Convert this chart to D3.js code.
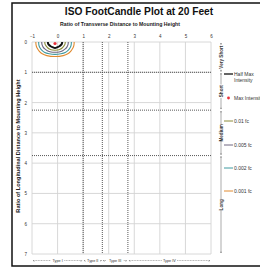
<!DOCTYPE html>
<html><head><meta charset="utf-8">
<script src="https://cdn.jsdelivr.net/npm/d3@7"></script>
<style>body{margin:0;background:#fff}svg{display:block;font-family:"Liberation Sans",Arial,sans-serif}</style>
</head><body><svg id="c" width="260" height="269"></svg>
<script>
const title = "ISO FootCandle Plot at 20 Feet";
const xTitle = "Ratio of Transverse Distance to Mounting Height";
const yTitle = "Ratio of Longitudinal Distance to Mounting Height";
const xTicks = [-1,0,1,2,3,4,5,6];
const yTicks = [0,1,2,3,4,5,6,7];
const typeBounds = [1, 1.75, 2.75];
const typeLabels = ["Type I","Type II","Type III","Type IV"];
const typeRanges = [[-1,1],[1,1.75],[1.75,2.75],[2.75,6]];
const lenBounds = [1, 2.25, 3.75];
const lenLabels = ["Very Short","Short","Medium","Long"];
const lenRanges = [[0,1],[1,2.25],[2.25,3.75],[3.75,7]];
const maxPoint = [-0.1, 0.05];
const legendNames = ["Half Max Intensity","Max Intensity","0.01 fc","0.005 fc","0.002 fc","0.001 fc"];
const legendColors = ["#111111","#e8303a","#8c8c3a","#6e6680","#3f9aa0","#e08a30"];
const c001 = [[-0.85,0],[-0.84,0.1],[-0.8,0.2],[-0.72,0.3],[-0.6,0.39],[-0.42,0.45],[-0.1,0.48],[0.22,0.45],[0.4,0.39],[0.52,0.3],[0.6,0.2],[0.64,0.1],[0.65,0]];
const c002 = [[-0.74,0],[-0.73,0.1],[-0.69,0.19],[-0.61,0.28],[-0.5,0.35],[-0.33,0.39],[-0.1,0.41],[0.13,0.39],[0.3,0.35],[0.41,0.28],[0.49,0.19],[0.53,0.1],[0.54,0]];
const c005 = [[-0.62,0],[-0.61,0.08],[-0.57,0.16],[-0.5,0.23],[-0.4,0.29],[-0.26,0.33],[-0.1,0.34],[0.06,0.33],[0.2,0.29],[0.3,0.23],[0.37,0.16],[0.41,0.08],[0.42,0]];
const c01 = [[-0.5,0],[-0.49,0.07],[-0.45,0.13],[-0.39,0.19],[-0.3,0.24],[-0.2,0.265],[-0.1,0.27],[0.0,0.265],[0.1,0.24],[0.19,0.19],[0.25,0.13],[0.29,0.07],[0.3,0]];
const cHalf = [[-0.38,0],[-0.37,0.05],[-0.33,0.1],[-0.27,0.14],[-0.2,0.17],[-0.1,0.2],[0.0,0.17],[0.07,0.14],[0.13,0.1],[0.17,0.05],[0.18,0]];
const contours = [c001, c002, c005, c01, cHalf];
const contourColors = ["#e08a30","#3f9aa0","#6e6680","#8c8c3a","#111111"];
const contourWidths = [1.1,1.1,1.1,1.1,2];

const svg = d3.select("#c");
const x = d3.scaleLinear().domain([-1,6]).range([32,211]);
const y = d3.scaleLinear().domain([0,7]).range([42,254]);

// outer frame
svg.append("rect").attr("x",12).attr("y",3).attr("width",275).attr("height",263)
  .attr("fill","none").attr("stroke","#111").attr("stroke-width",1.5);

svg.append("text").attr("x",139).attr("y",15).attr("text-anchor","middle")
  .attr("font-size",10.2).attr("font-weight","bold").attr("fill","#111").text(title);
svg.append("text").attr("x",120).attr("y",26).attr("text-anchor","middle")
  .attr("font-size",5.2).attr("font-weight","bold").attr("fill","#222").text(xTitle);
svg.append("text").attr("transform","translate(20,146) rotate(-90)").attr("text-anchor","middle")
  .attr("font-size",5.6).attr("font-weight","bold").attr("fill","#222").text(yTitle);

// grid
const g = svg.append("g");
g.selectAll(".gx").data(xTicks).enter().append("line")
  .attr("x1",d=>x(d)).attr("x2",d=>x(d)).attr("y1",y(0)).attr("y2",y(7))
  .attr("stroke","#d4d4d4").attr("stroke-width",0.9);
g.selectAll(".gy").data(yTicks).enter().append("line")
  .attr("y1",d=>y(d)).attr("y2",d=>y(d)).attr("x1",x(-1)).attr("x2",x(6))
  .attr("stroke","#d4d4d4").attr("stroke-width",0.9);

// axes labels
const xa = svg.append("g").attr("transform",`translate(0,${y(0)-4})`)
  .call(d3.axisTop(x).tickValues(xTicks).tickSize(0).tickPadding(0).tickFormat(d3.format("d")));
xa.select(".domain").remove();
xa.selectAll("text").attr("font-size",4.5).attr("fill","#333").attr("font-family","Liberation Sans");
const ya = svg.append("g").attr("transform",`translate(${x(-1)-5},0)`)
  .call(d3.axisLeft(y).tickValues(yTicks).tickSize(0).tickPadding(0).tickFormat(d3.format("d")));
ya.select(".domain").remove();
ya.selectAll("text").attr("font-size",4.5).attr("fill","#333").attr("font-family","Liberation Sans");

// dashed boundaries
svg.selectAll(".tb").data(typeBounds).enter().append("line")
  .attr("x1",d=>x(d)).attr("x2",d=>x(d)).attr("y1",y(0)).attr("y2",y(7))
  .attr("stroke","#444").attr("stroke-width",0.9).attr("stroke-dasharray","1,1");
svg.selectAll(".lb").data(lenBounds).enter().append("line")
  .attr("y1",d=>y(d)).attr("y2",d=>y(d)).attr("x1",x(-1)).attr("x2",x(6))
  .attr("stroke","#444").attr("stroke-width",0.9).attr("stroke-dasharray","1,1");

// contours
svg.append("clipPath").attr("id","pc").append("rect")
  .attr("x",x(-1)).attr("y",y(0)).attr("width",x(6)-x(-1)).attr("height",y(7)-y(0));
const line = d3.line().x(d=>x(d[0])).y(d=>y(d[1])).curve(d3.curveCatmullRom);
svg.append("g").attr("clip-path","url(#pc)").selectAll("path").data(contours).enter().append("path")
  .attr("d",line).attr("fill","none")
  .attr("stroke",(d,i)=>contourColors[i]).attr("stroke-width",(d,i)=>contourWidths[i]);
svg.append("circle").attr("cx",x(maxPoint[0])).attr("cy",y(maxPoint[1])).attr("r",1.6).attr("fill","#e8303a");

// bottom type arrows
const by = 260.5;
const defs = svg.append("defs");
defs.append("marker").attr("id","ah").attr("viewBox","0 0 6 6").attr("refX",5).attr("refY",3)
  .attr("markerWidth",4).attr("markerHeight",4).attr("orient","auto-start-reverse")
  .append("path").attr("d","M0,0L6,3L0,6").attr("fill","none").attr("stroke","#555").attr("stroke-width",1);
typeRanges.forEach((r,i)=>{
  const x0 = x(r[0])+1, x1 = x(r[1])-1, xm=(x0+x1)/2;
  const tw = typeLabels[i].length*1.9+2;
  svg.append("line").attr("x1",x0).attr("x2",xm-tw/2).attr("y1",by).attr("y2",by)
    .attr("stroke","#666").attr("stroke-width",0.5).attr("stroke-dasharray","1,0.6").attr("marker-start","url(#ah)");
  svg.append("line").attr("x1",xm+tw/2).attr("x2",x1).attr("y1",by).attr("y2",by)
    .attr("stroke","#666").attr("stroke-width",0.5).attr("stroke-dasharray","1,0.6").attr("marker-end","url(#ah)");
  svg.append("text").attr("x",xm).attr("y",by+1.4).attr("text-anchor","middle")
    .attr("font-size",3.8).attr("fill","#333").text(typeLabels[i]);
});

// right length bracket
const rx = 221;
lenRanges.forEach((r,i)=>{
  const y0 = y(r[0])+1, y1 = y(r[1])-1, ym=(y0+y1)/2;
  const tw = lenLabels[i].length*2.3+2;
  svg.append("line").attr("x1",rx).attr("x2",rx).attr("y1",y0).attr("y2",ym-tw/2)
    .attr("stroke","#555").attr("stroke-width",0.5).attr("marker-start","url(#ah)");
  svg.append("line").attr("x1",rx).attr("x2",rx).attr("y1",ym+tw/2).attr("y2",y1)
    .attr("stroke","#555").attr("stroke-width",0.5).attr("marker-end","url(#ah)");
  svg.append("text").attr("transform",`translate(${rx+1.6},${ym}) rotate(-90)`).attr("text-anchor","middle")
    .attr("font-size",4.6).attr("font-weight","bold").attr("fill","#333").text(lenLabels[i]);
});

// legend
const lx = 224;
const ly = [74, 98, 121, 145, 168, 191];
legendNames.forEach((n,i)=>{
  if (i===1) {
    svg.append("circle").attr("cx",lx+4.5).attr("cy",ly[i]).attr("r",1.4).attr("fill",legendColors[i]);
  } else {
    svg.append("line").attr("x1",lx).attr("x2",lx+9).attr("y1",ly[i]).attr("y2",ly[i])
      .attr("stroke",legendColors[i]).attr("stroke-width",i===0?1.3:1);
  }
  const tx = lx+10;
  if (i===0) {
    svg.append("text").attr("x",tx).attr("y",ly[i]+1.7).attr("font-size",5).attr("fill","#333").text("Half Max");
    svg.append("text").attr("x",tx).attr("y",ly[i]+7.7).attr("font-size",5).attr("fill","#333").text("Intensity");
  } else {
    svg.append("text").attr("x",tx).attr("y",ly[i]+1.7).attr("font-size",5).attr("fill","#333").text(n);
  }
});
</script></body></html>
